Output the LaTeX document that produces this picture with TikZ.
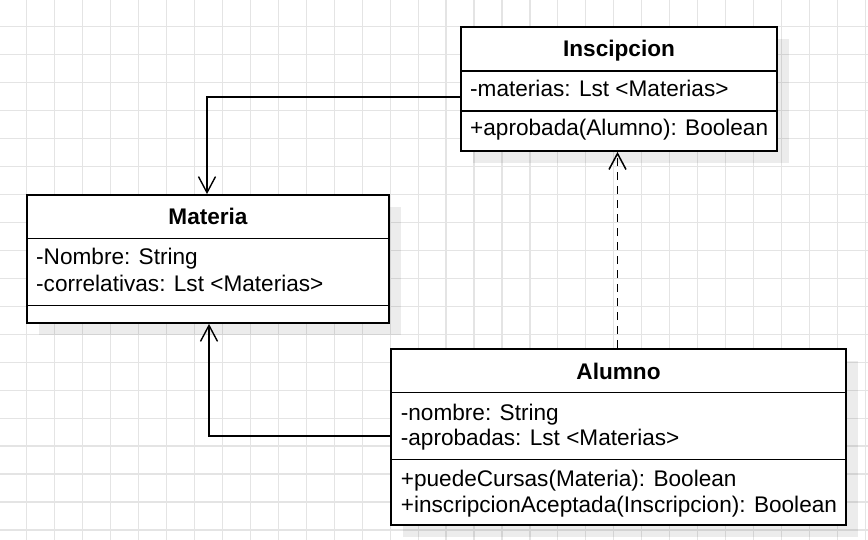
\documentclass[tikz,border=0pt]{standalone}
\usepackage{fontspec}
\setmainfont{Liberation Sans}
\usetikzlibrary{arrows.meta,shadows}
\definecolor{gridc}{RGB}{228,228,228}
\tikzset{
  gridline/.style={draw=gridc, line width=1.2pt},
  umlbox/.style={draw=black, fill=white, line width=1.8pt, rectangle, inner sep=0pt,
     drop shadow={shadow xshift=12pt, shadow yshift=-12pt, fill=black, opacity=0.075}},
  divider/.style={draw=black, line width=1.8pt},
  title/.style={anchor=base, inner sep=0pt, font=\fontsize{22.6}{26}\selectfont\bfseries},
  member/.style={anchor=base west, inner sep=0pt, font=\fontsize{22.6}{26}\selectfont},
  assoc/.style={draw=black, line width=1.4pt, -{Straight Barb[length=16pt,width=17pt]}},
  dep/.style={assoc, line width=1.5pt, dash pattern=on 8pt off 6pt},
}
\begin{document}
\begin{tikzpicture}[x=1pt,y=-1pt]
\useasboundingbox (0,0) rectangle (868,540);
\fill[white] (0,0) rectangle (868,540);
\foreach \i in {0,...,31} {
  \draw[gridline] ({26.8+27.95*\i},0) -- ({26.8+27.95*\i},540);
}
\foreach \i in {0,...,19} {
  \draw[gridline] (0,{26.8+27.95*\i}) -- (868,{26.8+27.95*\i});
}

% Inscipcion
\node[umlbox, minimum width=316pt, minimum height=124pt] (insc) at (619,89) {};
\draw[divider] (insc.west |- 0,71) -- (insc.east |- 0,71);
\draw[divider] (insc.west |- 0,111) -- (insc.east |- 0,111);
\node[title] (inscT) at (619,56.7) {Inscipcion};
\node[member] (inscA) at (470,96.7) {-materias: Lst <Materias>};
\node[member] (inscM) at (470,136) {+aprobada(Alumno): Boolean};

% Materia
\node[umlbox, minimum width=362pt, minimum height=128pt] (mat) at (208,259) {};
\draw[divider] (mat.west |- 0,238.5) -- (mat.east |- 0,238.5);
\draw[divider] (mat.west |- 0,305.5) -- (mat.east |- 0,305.5);
\node[title] (matT) at (208,225) {Materia};
\node[member] (matA1) at (36,265) {-Nombre: String};
\node[member] (matA2) at (36,291) {-correlativas: Lst <Materias>};

% Alumno
\node[umlbox, minimum width=455pt, minimum height=176pt] (alu) at (618.5,437) {};
\draw[divider] (alu.west |- 0,392.5) -- (alu.east |- 0,392.5);
\draw[divider] (alu.west |- 0,459.5) -- (alu.east |- 0,459.5);
\node[title] (aluT) at (618.5,379.3) {Alumno};
\node[member] (aluA1) at (400.7,420) {-nombre: String};
\node[member] (aluA2) at (400.7,445) {-aprobadas: Lst <Materias>};
\node[member] (aluM1) at (400.7,486.7) {+puedeCursas(Materia): Boolean};
\node[member] (aluM2) at (400.7,512.3) {+inscripcionAceptada(Inscripcion): Boolean};

% connectors
\coordinate (c1) at (insc.west |- 0,97);
\coordinate (c1b) at (207,97);
\draw[assoc] (c1) -- (c1b) -- (c1b |- mat.north);
\coordinate (c2) at (alu.west |- 0,436);
\coordinate (c2b) at (209,436);
\draw[assoc] (c2) -- (c2b) -- (c2b |- mat.south);
\coordinate (c3) at (617.5,0);
\draw[dep] (c3 |- alu.north) -- (c3 |- insc.south);
\end{tikzpicture}
\end{document}
